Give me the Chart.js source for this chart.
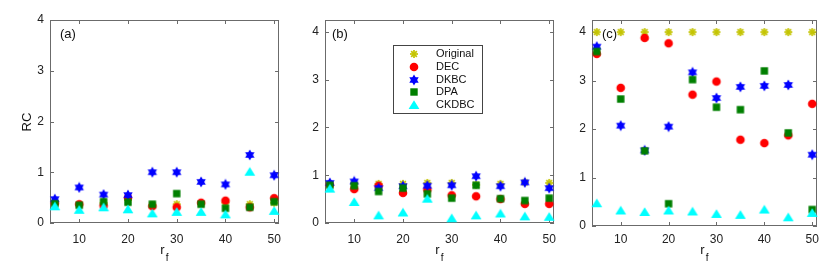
<!DOCTYPE html>
<html>
<head>
<meta charset="utf-8">
<script src="https://cdn.jsdelivr.net/npm/chart.js@4.4.1/dist/chart.umd.min.js"></script>
<style>
  body { margin: 0; background: #fff; }
  canvas { position: absolute; top: 0; }
</style>
</head>
<body>
<canvas id="pa" width="290" height="277" style="left:0px"></canvas>
<canvas id="pb" width="275" height="277" style="left:290px"></canvas>
<canvas id="pc" width="265" height="277" style="left:565px"></canvas>
<script>
const rf = [5, 10, 15, 20, 25, 30, 35, 40, 45, 50];
const xTicks = [10, 20, 30, 40, 50];
const yTicks = [0, 1, 2, 3, 4];
const seriesNames = ['Original', 'DEC', 'DKBC', 'DPA', 'CKDBC'];

// panel (a)
const origA  = [0.37, 0.36, 0.40, 0.45, 0.35, 0.37, 0.38, 0.40, 0.37, 0.40];
const decA   = [0.39, 0.37, 0.34, 0.50, 0.33, 0.31, 0.40, 0.44, 0.31, 0.49];
const dkbcA  = [0.47, 0.70, 0.56, 0.55, 1.00, 1.00, 0.81, 0.76, 1.34, 0.94];
const dpaA   = [0.38, 0.35, 0.42, 0.41, 0.37, 0.58, 0.37, 0.29, 0.31, 0.42];
const ckdbcA = [0.33, 0.26, 0.31, 0.27, 0.19, 0.22, 0.22, 0.17, 1.01, 0.24];

// panel (b)
const origB  = [0.80, 0.82, 0.82, 0.82, 0.84, 0.84, 0.80, 0.82, 0.85, 0.84];
const decB   = [0.80, 0.71, 0.78, 0.63, 0.70, 0.58, 0.56, 0.50, 0.40, 0.40];
const dkbcB  = [0.84, 0.87, 0.73, 0.77, 0.78, 0.79, 0.98, 0.77, 0.85, 0.73];
const dpaB   = [0.79, 0.78, 0.66, 0.73, 0.61, 0.52, 0.79, 0.51, 0.47, 0.52];
const ckdbcB = [0.72, 0.44, 0.16, 0.22, 0.51, 0.10, 0.16, 0.20, 0.14, 0.13];

// panel (c)
const origC  = [4.00, 4.00, 4.00, 4.00, 4.00, 4.00, 4.00, 4.00, 4.00, 4.00];
const decC   = [3.55, 2.85, 3.88, 3.77, 2.71, 2.98, 1.78, 1.71, 1.87, 2.52];
const dkbcC  = [3.70, 2.07, 1.56, 2.05, 3.17, 2.64, 2.87, 2.89, 2.91, 1.47];
const dpaC   = [3.60, 2.62, 1.55, 0.46, 3.02, 2.45, 2.40, 3.20, 1.92, 0.34];
const ckdbcC = [0.47, 0.32, 0.29, 0.32, 0.30, 0.25, 0.23, 0.34, 0.18, 0.27];

const colors = ['#c4c400', '#ff0000', '#0000ff', '#007f00', '#00ffff'];
const kinds = ['asterisk', 'circle', 'hexagram', 'square', 'triangle'];
const FONT = '"Liberation Sans", Arial, Helvetica, sans-serif';

// small canvases used as point styles (and reused in the legend)
function makeMarker(kind, color) {
    const c = document.createElement('canvas');
    c.width = 12; c.height = 12;
    const g = c.getContext('2d');
    const m = 6;
    g.fillStyle = color;
    g.strokeStyle = color;
    if (kind === 'asterisk') {
        g.lineWidth = 1.7;
        for (let a = 0; a < 4; a++) {
            const t = a * Math.PI / 4;
            g.beginPath();
            g.moveTo(m - 4 * Math.cos(t), m - 4 * Math.sin(t));
            g.lineTo(m + 4 * Math.cos(t), m + 4 * Math.sin(t));
            g.stroke();
        }
    } else if (kind === 'circle') {
        g.beginPath();
        g.arc(m, m, 4.3, 0, Math.PI * 2);
        g.fill();
    } else if (kind === 'hexagram') {
        [-90, 90].forEach(start => {
            g.beginPath();
            for (let k = 0; k < 3; k++) {
                const t = (start + k * 120) * Math.PI / 180;
                const px = m + 5.4 * Math.cos(t), py = m + 5.4 * Math.sin(t);
                if (k === 0) g.moveTo(px, py); else g.lineTo(px, py);
            }
            g.closePath();
            g.fill();
        });
    } else if (kind === 'square') {
        g.fillRect(m - 3.7, m - 3.7, 7.4, 7.4);
    } else if (kind === 'triangle') {
        g.beginPath();
        g.moveTo(m, m - 4.8);
        g.lineTo(m + 5.4, m + 4);
        g.lineTo(m - 5.4, m + 4);
        g.closePath();
        g.fill();
    }
    return c;
}
const markers = kinds.map((k, i) => makeMarker(k, colors[i]));

function makePanel(id, series, cfg) {
    const deco = {
        id: 'deco',
        beforeDatasetsDraw(chart) {
            const ctx = chart.ctx;
            const a = chart.chartArea;
            const xs = chart.scales.x, ys = chart.scales.y;
            ctx.save();
            ctx.strokeStyle = '#6b6b6b';
            ctx.lineWidth = 1;
            ctx.strokeRect(Math.round(a.left) + 0.5, Math.round(a.top) + 0.5,
                Math.round(a.right - a.left) - 1, Math.round(a.bottom - a.top) - 1);
            ctx.beginPath();
            xTicks.forEach(v => {
                const px = Math.round(xs.getPixelForValue(v)) + 0.5;
                ctx.moveTo(px, a.bottom); ctx.lineTo(px, a.bottom - 4);
                ctx.moveTo(px, a.top); ctx.lineTo(px, a.top + 4);
            });
            yTicks.forEach(v => {
                const py = Math.round(ys.getPixelForValue(v)) + 0.5;
                ctx.moveTo(a.left, py); ctx.lineTo(a.left + 4, py);
                ctx.moveTo(a.right, py); ctx.lineTo(a.right - 4, py);
            });
            ctx.stroke();

            // panel label
            ctx.fillStyle = '#111';
            ctx.font = '13px ' + FONT;
            ctx.textBaseline = 'middle';
            ctx.textAlign = 'left';
            ctx.fillText(cfg.label, cfg.labelX, 34);

            // x title r_f
            const cx = (a.left + a.right) / 2;
            ctx.font = '13px ' + FONT;
            const wr = ctx.measureText('r').width;
            ctx.fillText('r', cx - wr / 2 - 2, 250);
            ctx.font = '10px ' + FONT;
            ctx.fillText('f', cx + wr / 2 - 1, 258);

            if (cfg.yTitle) {
                ctx.save();
                ctx.translate(27, 122);
                ctx.rotate(-Math.PI / 2);
                ctx.textAlign = 'center';
                ctx.font = '13px ' + FONT;
                ctx.fillText(cfg.yTitle, 0, 0);
                ctx.restore();
            }
            ctx.restore();
        },
        afterDatasetsDraw(chart) {
            if (!cfg.legend) return;
            const ctx = chart.ctx;
            ctx.save();
            ctx.fillStyle = '#fff';
            ctx.strokeStyle = '#444';
            ctx.lineWidth = 1;
            ctx.fillRect(103.5, 45.5, 89, 68);
            ctx.strokeRect(103.5, 45.5, 89, 68);
            ctx.font = '11px ' + FONT;
            ctx.textBaseline = 'middle';
            ctx.textAlign = 'left';
            ctx.fillStyle = '#111';
            chart.data.datasets.slice().sort((p, q) => q.order - p.order).forEach((ds, i) => {
                const y = 54 + i * 12.8;
                ctx.drawImage(ds.pointStyle, 124 - 6, Math.round(y) - 6);
                ctx.fillText(ds.label, 146, y);
            });
            ctx.restore();
        }
    };

    new Chart(document.getElementById(id), {
        type: 'scatter',
        data: {
            datasets: series.map((vals, i) => ({
                label: seriesNames[i],
                data: rf.map((x, j) => ({ x: x, y: vals[j] })),
                pointStyle: markers[i],
                backgroundColor: colors[i],
                borderColor: colors[i],
                showLine: false,
                clip: false,
                order: 4 - i
            }))
        },
        options: {
            responsive: false,
            animation: false,
            layout: { padding: { top: 20, right: cfg.padRight, left: 0, bottom: 0 } },
            plugins: { legend: { display: false }, tooltip: { enabled: false } },
            scales: {
                x: {
                    type: 'linear', min: 4, max: 51,
                    afterBuildTicks: s => { s.ticks = xTicks.map(v => ({ value: v })); },
                    afterFit: s => { s.height = cfg.xHeight; },
                    grid: { display: true, drawOnChartArea: false, drawTicks: false, tickLength: 0 },
                    border: { display: false },
                    ticks: { padding: cfg.xPad, color: '#222', font: { family: FONT, size: 12 } }
                },
                y: {
                    type: 'linear', min: 0, max: cfg.yMax,
                    afterBuildTicks: s => { s.ticks = yTicks.map(v => ({ value: v })); },
                    afterFit: s => { s.width = cfg.yWidth; },
                    grid: { display: true, drawOnChartArea: false, drawTicks: false, tickLength: 0 },
                    border: { display: false },
                    ticks: { padding: 6, color: '#222', font: { family: FONT, size: 12 } }
                }
            }
        },
        plugins: [deco]
    });
}

makePanel('pa', [origA, decA, dkbcA, dpaA, ckdbcA],
    { label: '(a)', labelX: 60, yTitle: 'RC', legend: false, yMax: 4, yWidth: 50, padRight: 7, xHeight: 54, xPad: 9 });
makePanel('pb', [origB, decB, dkbcB, dpaB, ckdbcB],
    { label: '(b)', labelX: 42, yTitle: null, legend: true, yMax: 4.25, yWidth: 35, padRight: 6, xHeight: 54, xPad: 9 });
makePanel('pc', [origC, decC, dkbcC, dpaC, ckdbcC],
    { label: '(c)', labelX: 37, yTitle: null, legend: false, yMax: 4.25, yWidth: 27, padRight: 13, xHeight: 51, xPad: 6 });
</script>
</body>
</html>
